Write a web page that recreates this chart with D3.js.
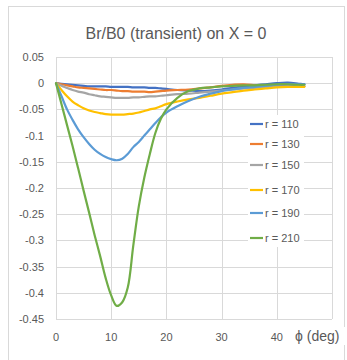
<!DOCTYPE html>
<html><head><meta charset="utf-8">
<script src="https://cdn.jsdelivr.net/npm/d3@7"></script>
<style>body{margin:0;background:#fff}svg{display:block}</style>
</head><body>
<script>
const phi = [0,1,2,3,4,5,6,7,8,9,10,11,12,13,14,15,16,17,18,19,20,22,24,26,28,30,32,34,36,38,40,42,44,45];
const r110 = [0,-0.001,-0.002,-0.003,-0.004,-0.005,-0.006,-0.006,-0.006,-0.006,-0.007,-0.007,-0.007,-0.007,-0.008,-0.008,-0.008,-0.009,-0.009,-0.010,-0.011,-0.013,-0.014,-0.015,-0.014,-0.012,-0.009,-0.006,-0.004,-0.002,0.000,0.001,-0.001,-0.002];
const r130 = [0,-0.002,-0.004,-0.006,-0.008,-0.009,-0.010,-0.011,-0.012,-0.013,-0.013,-0.014,-0.015,-0.015,-0.016,-0.016,-0.016,-0.017,-0.016,-0.015,-0.014,-0.013,-0.012,-0.010,-0.008,-0.005,-0.003,-0.002,-0.004,-0.006,-0.005,-0.005,-0.006,-0.006];
const r150 = [0,-0.005,-0.009,-0.013,-0.016,-0.018,-0.021,-0.023,-0.025,-0.026,-0.027,-0.028,-0.028,-0.028,-0.027,-0.027,-0.026,-0.025,-0.025,-0.024,-0.023,-0.021,-0.020,-0.018,-0.016,-0.014,-0.012,-0.010,-0.009,-0.008,-0.007,-0.006,-0.006,-0.006];
const r170 = [0,-0.013,-0.025,-0.035,-0.042,-0.048,-0.052,-0.055,-0.057,-0.059,-0.060,-0.060,-0.060,-0.059,-0.058,-0.056,-0.053,-0.050,-0.048,-0.044,-0.040,-0.035,-0.031,-0.028,-0.024,-0.020,-0.017,-0.014,-0.012,-0.010,-0.008,-0.007,-0.007,-0.007];
const r190 = [0,-0.025,-0.050,-0.070,-0.088,-0.103,-0.116,-0.127,-0.135,-0.141,-0.145,-0.147,-0.144,-0.135,-0.122,-0.112,-0.100,-0.088,-0.076,-0.065,-0.056,-0.044,-0.034,-0.026,-0.020,-0.015,-0.012,-0.009,-0.007,-0.005,-0.003,-0.002,-0.002,-0.002];
const r210 = [0,-0.040,-0.080,-0.120,-0.162,-0.205,-0.247,-0.290,-0.330,-0.372,-0.405,-0.425,-0.418,-0.390,-0.310,-0.235,-0.180,-0.135,-0.095,-0.068,-0.050,-0.028,-0.015,-0.010,-0.008,-0.006,-0.005,-0.004,-0.004,-0.003,-0.002,-0.002,-0.003,-0.003];
const seriesNames = ["r = 110","r = 130","r = 150","r = 170","r = 190","r = 210"];
const seriesValues = [r110,r130,r150,r170,r190,r210];
const seriesColors = ["#4472C4","#ED7D31","#A5A5A5","#FFC000","#5B9BD5","#70AD47"];
const xTicks = [0,10,20,30,40];
const yTicks = [0.05,0,-0.05,-0.1,-0.15,-0.2,-0.25,-0.3,-0.35,-0.4,-0.45];
const yTickLabels = ["0.05","0","-0.05","-0.1","-0.15","-0.2","-0.25","-0.3","-0.35","-0.4","-0.45"];
const titleText = "Br/B0 (transient) on X = 0";
const xAxisTitle = "ϕ (deg)";

// layout
const W = 347, H = 360;
const legendRowY = [124,144,165,190,213,238];
const svg = d3.select("body").append("svg").attr("width",W).attr("height",H);
const font = "Liberation Sans, Arial, sans-serif";
const textColor = "#595959";

svg.append("rect").attr("x",8.5).attr("y",6.5).attr("width",336).attr("height",370)
  .attr("fill","#fff").attr("stroke","#d9d9d9");

const x = d3.scaleLinear().domain([0,50]).range([56,332]);
const y = d3.scaleLinear().domain([0.05,-0.45]).range([57,319]);

const g = svg.append("g");
// grid
g.selectAll(".hg").data(yTicks).join("line")
  .attr("x1",x(0)).attr("x2",x(50))
  .attr("y1",d=>Math.round(y(d))+0.5).attr("y2",d=>Math.round(y(d))+0.5)
  .attr("stroke","#d9d9d9").attr("stroke-width",1);
g.selectAll(".vg").data([0,10,20,30,40,50]).join("line")
  .attr("y1",y(0.05)).attr("y2",y(-0.45))
  .attr("x1",d=>Math.round(x(d))+0.5).attr("x2",d=>Math.round(x(d))+0.5)
  .attr("stroke","#d9d9d9").attr("stroke-width",1);

// y labels
g.selectAll(".yl").data(yTicks).join("text")
  .attr("x",44).attr("y",d=>y(d)+4)
  .attr("text-anchor","end").attr("font-family",font).attr("font-size",11)
  .attr("fill",textColor).text((d,i)=>yTickLabels[i]);
// x labels
g.selectAll(".xl").data(xTicks).join("text")
  .attr("x",d=>x(d)).attr("y",341)
  .attr("text-anchor","middle").attr("font-family",font).attr("font-size",11)
  .attr("fill",textColor).text(d=>d);

// lines
const line = d3.line().x(d=>x(d[0])).y(d=>y(d[1])).curve(d3.curveCatmullRom.alpha(0.5));
seriesValues.forEach((vals,i)=>{
  svg.append("path").datum(phi.map((p,j)=>[p,vals[j]]))
    .attr("d",line).attr("fill","none").attr("stroke",seriesColors[i])
    .attr("stroke-width",2.2).attr("stroke-linejoin","round").attr("stroke-linecap","round");
});

// legend
svg.append("rect").attr("x",248).attr("y",115).attr("width",56).attr("height",132).attr("fill","#fff");
seriesNames.forEach((n,i)=>{
  const ly = legendRowY[i];
  svg.append("line").attr("x1",250).attr("x2",263).attr("y1",ly).attr("y2",ly)
    .attr("stroke",seriesColors[i]).attr("stroke-width",2.2);
  svg.append("text").attr("x",265).attr("y",ly+4).attr("font-family",font).attr("font-size",11)
    .attr("fill",textColor).text(n);
});

// title
svg.append("text").attr("x",176).attr("y",39).attr("text-anchor","middle")
  .attr("font-family",font).attr("font-size",16).attr("fill",textColor).text(titleText);

// x axis title
svg.append("rect").attr("x",294).attr("y",327).attr("width",53).attr("height",18).attr("fill","#fff");
svg.append("text").attr("x",295).attr("y",341).attr("font-family",font).attr("font-size",14)
  .attr("fill",textColor).text(xAxisTitle);
</script>
</body></html>
